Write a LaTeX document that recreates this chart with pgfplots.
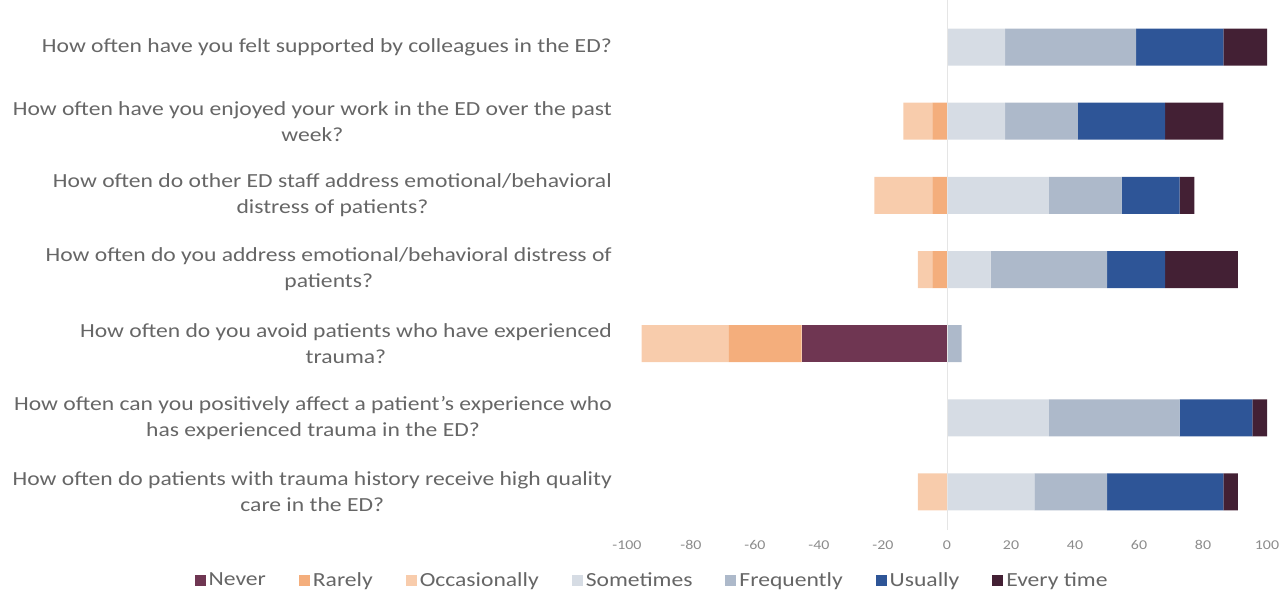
\documentclass[border=0pt]{standalone}
\usepackage{fontspec}
\setmainfont{Carlito}[FakeStretch=1.18]
\usepackage{pgfplots}
\usepackage{pgfplotstable}
\pgfplotsset{compat=1.18}
\definecolor{cNever}{HTML}{6F3652}
\definecolor{cRarely}{HTML}{F4AE7C}
\definecolor{cOcc}{HTML}{F8CCAC}
\definecolor{cSome}{HTML}{D6DCE4}
\definecolor{cFreq}{HTML}{ADB9CA}
\definecolor{cUsu}{HTML}{2E5597}
\definecolor{cEvery}{HTML}{432034}
\definecolor{lbl}{HTML}{666666}
\definecolor{tck}{HTML}{8C8C8C}
\pgfplotstableread{
y N R O S F U E
1 0 0 0 18.18 40.91 27.27 13.64
2 0 -4.55 -9.09 18.18 22.73 27.27 18.18
3 0 -4.55 -18.18 31.82 22.73 18.18 4.55
4 0 -4.55 -4.55 13.64 36.36 18.18 22.73
5 -45.45 -22.73 -27.27 0 4.55 0 0
6 0 0 0 31.82 40.91 22.73 4.55
7 0 0 -9.09 27.27 22.73 36.36 4.55
}\data
\begin{document}
\begin{tikzpicture}[x=1pt,y=1pt]
\useasboundingbox (0,0) rectangle (1281,590);
\begin{axis}[
  at={(627pt,61pt)}, anchor=south west,
  scale only axis, width=640pt, height=519pt,
  xbar stacked, bar width=37pt,
  xmin=-100, xmax=100, ymin=0.5, ymax=7.5, y dir=reverse,
  clip=false,
  axis line style={draw=none}, tick style={draw=none},
  xtick={-100,-80,...,100},
  ytick={1,...,7},
  yticklabels={
    {How often have you felt supported by colleagues in the ED?},
    {How often have you enjoyed your work in the ED over the past\\week?},
    {How often do other ED staff address emotional/behavioral\\distress of patients?},
    {How often do you address emotional/behavioral distress of\\patients?},
    {How often do you avoid patients who have experienced\\trauma?},
    {How often can you positively affect a patient's experience who\\has experienced trauma in the ED?},
    {How often do patients with trauma history receive high quality\\care in the ED?}},
  yticklabel style={font=\fontsize{20}{26}\selectfont, text=lbl, align=center, anchor=east, inner sep=0pt, xshift=-15pt},
  xticklabel style={font=\fontsize{13.5}{15}\selectfont, text=tck, yshift=-8pt},
  /pgf/number format/assume math mode=true,
  legend columns=-1,
  legend image code/.code={\fill[#1] (0pt,-5.5pt) rectangle (11pt,5.5pt);},
  legend style={draw=none, at={(0.04,-0.0983)}, anchor=center,
    font=\fontsize{20}{24}\selectfont, text=lbl,
    nodes={inner xsep=3pt},
    /tikz/every even column/.append style={column sep=30pt}},
]
\draw[black!10, line width=1pt] (axis cs:0,0.37) -- (axis cs:0,7.51);
\addplot[fill=cNever, draw=none] table[x=N,y=y]{\data};
\addplot[fill=cRarely, draw=none] table[x=R,y=y]{\data};
\addplot[fill=cOcc, draw=none] table[x=O,y=y]{\data};
\addplot[fill=cSome, draw=none] table[x=S,y=y]{\data};
\addplot[fill=cFreq, draw=none] table[x=F,y=y]{\data};
\addplot[fill=cUsu, draw=none] table[x=U,y=y]{\data};
\addplot[fill=cEvery, draw=none] table[x=E,y=y]{\data};
\legend{Never, Rarely, Occasionally, Sometimes, Frequently, Usually, Every time}
\end{axis}
\end{tikzpicture}
\end{document}
